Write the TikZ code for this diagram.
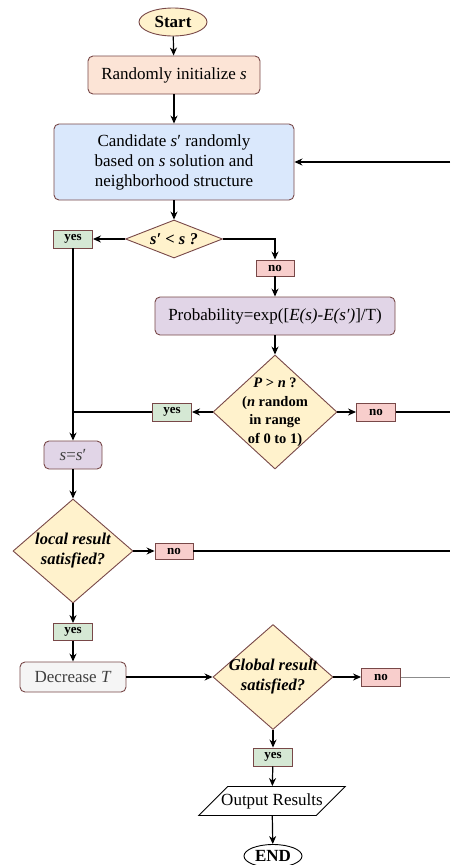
\documentclass[tikz,border=0pt]{standalone}
\usepackage{fontspec}
\setmainfont{Liberation Serif}
\usepackage{xcolor}
\usetikzlibrary{shapes.geometric, arrows.meta}
\definecolor{edgec}{RGB}{120,72,72}
\definecolor{ylw}{HTML}{FFF2CC}
\definecolor{peach}{HTML}{FCE4D6}
\definecolor{blu}{HTML}{DAE8FC}
\definecolor{purp}{HTML}{E1D5E7}
\definecolor{grn}{HTML}{D5E8D4}
\definecolor{rd}{HTML}{F8CECC}
\definecolor{gry}{HTML}{F5F5F5}
\newcommand{\bigtxt}{\fontsize{17}{20}\selectfont}
\newcommand{\asktxt}{\fontsize{16.5}{20}\selectfont}
\tikzstyle{startstop} = [ellipse, minimum width=68pt, minimum height=28pt, inner sep=0pt, draw=edgec, line width=0.9pt, font=\bigtxt\bfseries]
\tikzstyle{process} = [rectangle, rounded corners=5pt, text centered, align=center, inner sep=0pt, draw=edgec, line width=0.9pt, font=\bigtxt]
\tikzstyle{decision} = [diamond, inner sep=0pt, draw=edgec, fill=ylw, line width=0.9pt]
\tikzstyle{dtext} = [align=center, font=\asktxt\bfseries\itshape]
\tikzstyle{yesbox} = [rectangle, minimum width=39pt, minimum height=18pt, inner sep=0pt, draw=edgec, fill=grn, line width=0.9pt, font=\fontsize{13}{15}\selectfont\bfseries]
\tikzstyle{nobox} = [yesbox, fill=rd]
\tikzstyle{io} = [trapezium, trapezium left angle=45, trapezium right angle=135, minimum width=60pt, minimum height=29pt, inner sep=0pt, draw=black, line width=0.9pt, font=\bigtxt]
\tikzstyle{arrow} = [line width=1.2pt, -{Stealth[length=8pt, width=7pt]}]
\tikzstyle{line} = [line width=1.2pt]

\begin{document}
\begin{tikzpicture}[x=1pt,y=1pt]
\useasboundingbox (0,0) rectangle (450,-865);

\node (start) [startstop, fill=ylw, xshift=173pt, yshift=-22pt] {Start};
\node (init) [process, fill=peach, minimum width=172pt, minimum height=38pt, xshift=174pt, yshift=-75pt] {Randomly initialize \textit{s}};
\node (cand) [process, fill=blu, minimum width=240pt, minimum height=76pt, xshift=174pt, yshift=-162pt] {Candidate \textit{s}′ randomly\\based on \textit{s} solution and\\neighborhood structure};
\node (test) [decision, minimum width=97pt, minimum height=38pt, xshift=174pt, yshift=-239pt,
  label={[dtext]center:\textit{s}′ < \textit{s} ?}] {};
\node (yes1) [yesbox, xshift=73pt, yshift=-239pt] {yes};
\node (no1) [nobox, minimum width=38pt, minimum height=16pt, xshift=275pt, yshift=-268pt] {no};
\node (prob) [process, fill=purp, minimum width=240pt, minimum height=38pt, xshift=275pt, yshift=-316pt] {Probability=exp([\textit{E(s)}-\textit{E(s′)}]/T)};
\node (accept) [decision, minimum width=124pt, minimum height=114pt, xshift=275pt, yshift=-412pt,
  label={[dtext, font=\fontsize{14.5}{18.5}\selectfont\bfseries]center:\textit{P} > \textit{n} ?\\(\textit{n} random\\in range\\of 0 to 1)}] {};
\node (yes2) [yesbox, xshift=172pt, yshift=-412pt] {yes};
\node (no2) [nobox, xshift=376pt, yshift=-412pt] {no};
\node (swap) [process, fill=purp, minimum width=58pt, minimum height=28pt, text=black!75, xshift=73pt, yshift=-455pt] {\textit{s}=\textit{s}′};
\node (local) [decision, minimum width=120pt, minimum height=104pt, xshift=73pt, yshift=-551pt,
  label={[dtext]center:local result\\satisfied?}] {};
\node (no3) [nobox, minimum width=38pt, minimum height=16pt, xshift=174pt, yshift=-551pt] {no};
\node (yes3) [yesbox, minimum height=17pt, xshift=73pt, yshift=-632pt] {yes};
\node (decr) [process, fill=gry, minimum width=106pt, minimum height=30pt, text=black!75, xshift=73pt, yshift=-677pt] {Decrease \textit{T}};
\node (global) [decision, minimum width=120pt, minimum height=105pt, xshift=273pt, yshift=-677pt,
  label={[dtext]center:Global result\\satisfied?}] {};
\node (no4) [nobox, xshift=381pt, yshift=-677pt] {no};
\node (yes4) [yesbox, xshift=273pt, yshift=-757pt] {yes};
\node (out) [io, xshift=272pt, yshift=-801pt] {\makebox[47pt]{Output Results}};
\node (end) [startstop, fill=white, draw=black, minimum width=58pt, minimum height=23pt, xshift=273pt, yshift=-856pt] {END};

\coordinate (r1) at (450,-162);
\coordinate (r2) at (450,-412);
\coordinate (r3) at (450,-551);
\coordinate (r4) at (450,-677);

\draw [arrow] (start) -- (init);
\draw [arrow] (init) -- (cand);
\draw [arrow] (cand) -- (test);
\draw [arrow] (r1) -- (cand.east);
\draw [arrow] (test.west) -- (yes1.east);
\draw [arrow] (test.east) -| (no1.north);
\draw [arrow] (no1) -- (prob);
\draw [arrow] (prob) -- (accept);
\draw [arrow] (accept.west) -- (yes2.east);
\draw [arrow] (accept.east) -- (no2.west);
\draw [line] (no2.east) -- (r2);
\draw [line] (yes2.west) -- (yes2.west -| yes1.south);
\draw [arrow] (yes1.south) -- (swap.north);
\draw [arrow] (swap) -- (local);
\draw [arrow] (local.east) -- (no3.west);
\draw [line] (no3.east) -- (r3);
\draw [arrow] (local.south) -- (yes3.north);
\draw [arrow] (yes3) -- (decr);
\draw [arrow] (decr.east) -- (global.west);
\draw [arrow] (global.east) -- (no4.west);
\draw [line width=0.8pt, black!45] (no4.east) -- (r4);
\draw [arrow] (global.south) -- (yes4.north);
\draw [arrow] (yes4) -- (out);
\draw [arrow] (out) -- (end);
\end{tikzpicture}
\end{document}
